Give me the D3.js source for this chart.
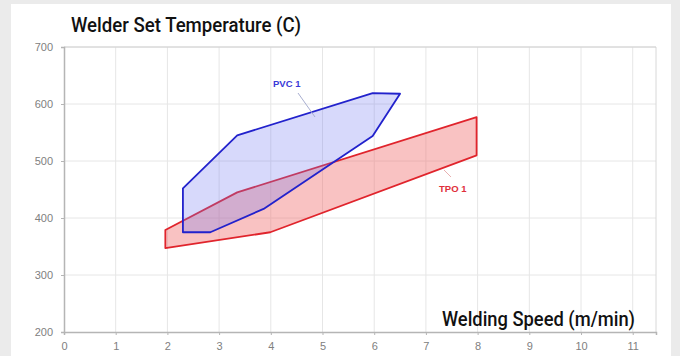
<!DOCTYPE html>
<html>
<head>
<meta charset="utf-8">
<script src="https://cdn.jsdelivr.net/npm/d3@7"></script>
<style>
  body { margin: 0; background: #ebebeb; }
  #chart { position: absolute; left: 0; top: 0; }
  .tick text { fill: #808080; font-family: "Liberation Sans", Arial, sans-serif; font-size: 11px; }
  .axis-title { font-family: Roboto, "Liberation Sans", sans-serif; font-weight: 500; fill: #111; }
  .series-label { font-family: "Liberation Sans", Arial, sans-serif; font-weight: bold; font-size: 9.5px; }
</style>
</head>
<body>
<div id="chart"></div>
<script>
// data
var xTicks = [0, 1, 2, 3, 4, 5, 6, 7, 8, 9, 10, 11];
var yTicks = [200, 300, 400, 500, 600, 700];

// PVC 1 window (speed m/min, temperature C)
var pvcSpeed = [2.3, 3.35, 5.97, 6.5, 5.97, 3.86, 2.83, 2.3];
var pvcTemp  = [452, 545, 619, 618, 544, 416, 375, 375];

// TPO 1 window
var tpoSpeed = [1.96, 3.35, 7.98, 7.98, 3.99, 1.96];
var tpoTemp  = [379, 445, 577, 510, 375, 347];

var pvcPoints = pvcSpeed.map(function(s, i) { return {speed: s, temp: pvcTemp[i]}; });
var tpoPoints = tpoSpeed.map(function(s, i) { return {speed: s, temp: tpoTemp[i]}; });

var W = 680, H = 356;
var margin = {top: 47, right: 24, bottom: 24, left: 64};
var width = 656 - margin.left;
var height = 332 - margin.top;

var svg = d3.select("#chart").append("svg")
    .attr("width", W)
    .attr("height", H);

// white panel
svg.append("rect")
    .attr("x", 11).attr("y", 4)
    .attr("width", 660).attr("height", H - 4)
    .attr("fill", "#fff");

var g = svg.append("g")
    .attr("transform", "translate(" + margin.left + "," + margin.top + ")");

var x = d3.scaleLinear().domain([0, 11.45]).range([0, width]);
var y = d3.scaleLinear().domain([200, 700]).range([height, 0]);

// grid
g.append("g").selectAll("line").data(xTicks.slice(1))
    .enter().append("line")
    .attr("x1", function(d) { return x(d); }).attr("x2", function(d) { return x(d); })
    .attr("y1", 0).attr("y2", height)
    .attr("stroke", "#e6e6e6");
g.append("g").selectAll("line").data(yTicks.slice(1))
    .enter().append("line")
    .attr("x1", 0).attr("x2", width)
    .attr("y1", function(d) { return y(d); }).attr("y2", function(d) { return y(d); })
    .attr("stroke", "#e6e6e6");

// frame right / top
g.append("line")
    .attr("x1", width).attr("x2", width)
    .attr("y1", 0).attr("y2", height)
    .attr("stroke", "#d8d8d8");
g.append("line")
    .attr("x1", 0).attr("x2", width)
    .attr("y1", 0).attr("y2", 0)
    .attr("stroke", "#d0d0d0");

// axes
var xAxis = d3.axisBottom(x).tickValues(xTicks).tickSize(3).tickPadding(7);
var yAxis = d3.axisLeft(y).tickValues(yTicks).tickSize(3).tickPadding(8);

var xg = g.append("g")
    .attr("transform", "translate(0," + height + ")")
    .call(xAxis);
var yg = g.append("g").call(yAxis);
[xg, yg].forEach(function(a) {
    a.select(".domain").attr("stroke", "#b5b5b5").attr("stroke-width", 1.5);
    a.selectAll(".tick line").attr("stroke", "#b5b5b5");
});

var line = d3.line()
    .x(function(d) { return x(d.speed); })
    .y(function(d) { return y(d.temp); })
    .curve(d3.curveLinearClosed);

// TPO first, PVC on top
g.append("path")
    .datum(tpoPoints)
    .attr("d", line)
    .attr("fill", "rgba(240,110,110,0.42)")
    .attr("stroke", "#e0242c")
    .attr("stroke-width", 1.8)
    .attr("stroke-linejoin", "round");

g.append("path")
    .datum(pvcPoints)
    .attr("d", line)
    .attr("fill", "rgba(110,120,240,0.28)")
    .attr("stroke", "#2222cc")
    .attr("stroke-width", 1.8)
    .attr("stroke-linejoin", "round");

// series labels and leaders
svg.append("line")
    .attr("x1", 298).attr("y1", 93).attr("x2", 315).attr("y2", 117)
    .attr("stroke", "#a8aed0").attr("stroke-width", 1);
svg.append("text")
    .attr("class", "series-label")
    .attr("x", 273).attr("y", 87)
    .attr("fill", "#3a3ad8")
    .text("PVC 1");

svg.append("line")
    .attr("x1", 444).attr("y1", 170).attr("x2", 451).attr("y2", 177)
    .attr("stroke", "#e8b0b0").attr("stroke-width", 1);
svg.append("text")
    .attr("class", "series-label")
    .attr("x", 439).attr("y", 192)
    .attr("fill", "#e0303a")
    .text("TPO 1");

// axis titles
svg.append("text")
    .attr("class", "axis-title")
    .attr("x", 71).attr("y", 32)
    .attr("font-size", 20)
    .attr("textLength", 230)
    .attr("lengthAdjust", "spacingAndGlyphs")
    .text("Welder Set Temperature (C)");

svg.append("text")
    .attr("class", "axis-title")
    .attr("x", 442).attr("y", 326)
    .attr("font-size", 20)
    .attr("textLength", 193)
    .attr("lengthAdjust", "spacingAndGlyphs")
    .text("Welding Speed (m/min)");
</script>
</body>
</html>
